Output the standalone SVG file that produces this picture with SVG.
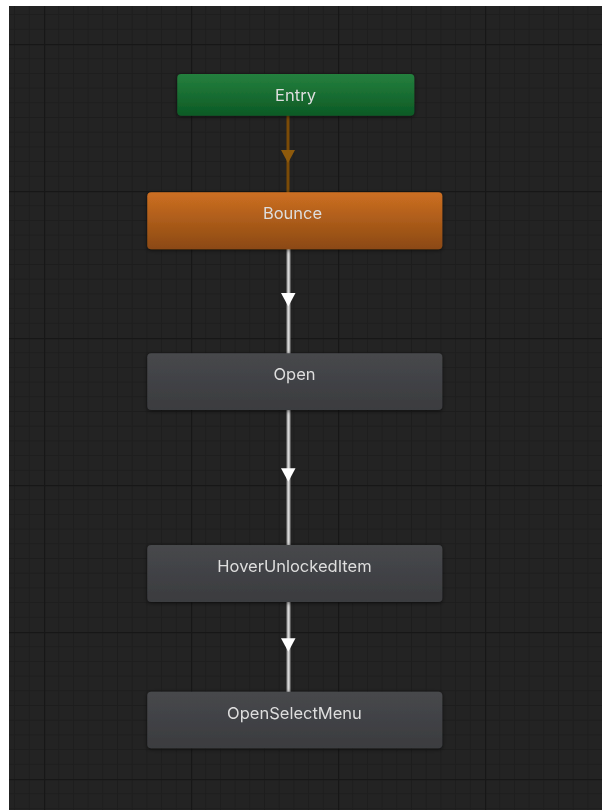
<svg xmlns="http://www.w3.org/2000/svg" width="602" height="810" viewBox="0 0 602 810">
  <defs>
    <!-- minor + major grid, one major cell = 10 minor cells -->
    <pattern id="grid" x="44" y="44" width="147" height="147" patternUnits="userSpaceOnUse">
      <g stroke="#1d1d1d" stroke-width="1">
        <path d="M14.7 0V147M29.4 0V147M44.1 0V147M58.8 0V147M73.5 0V147M88.2 0V147M102.9 0V147M117.6 0V147M132.3 0V147"/>
        <path d="M0 14.7H147M0 29.4H147M0 44.1H147M0 58.8H147M0 73.5H147M0 88.2H147M0 102.9H147M0 117.6H147M0 132.3H147"/>
      </g>
      <path d="M0.5 0V147M0 0.5H147" stroke="#171717" stroke-width="1.6"/>
    </pattern>
    <linearGradient id="gEntry" x1="0" y1="0" x2="0" y2="1">
      <stop offset="0" stop-color="#25803e"/>
      <stop offset="1" stop-color="#0c5a25"/>
    </linearGradient>
    <linearGradient id="gBounce" x1="0" y1="0" x2="0" y2="1">
      <stop offset="0" stop-color="#cd6f22"/>
      <stop offset="1" stop-color="#8b4912"/>
    </linearGradient>
    <linearGradient id="gState" x1="0" y1="0" x2="0" y2="1">
      <stop offset="0" stop-color="#47484c"/>
      <stop offset="1" stop-color="#3b3c3f"/>
    </linearGradient>
    <filter id="shadow" x="-10%" y="-30%" width="120%" height="160%">
      <feDropShadow dx="0" dy="1" stdDeviation="2" flood-color="#000" flood-opacity="0.6"/>
    </filter>
  </defs>
  <style>
    .label { font-family: Inter, "Noto Sans", "DejaVu Sans", sans-serif; font-size: 16.5px; fill: #dedede; text-anchor: middle; }
    .wire { stroke: #8c8c8c; stroke-width: 5; stroke-opacity: 0.55; fill: none; }
    .wire-core { stroke: #d8d8d8; stroke-width: 2.4; fill: none; }
    .head { fill: #ffffff; }
    .entry-wire { stroke: #7b4b07; stroke-width: 3; fill: none; }
    .entry-head { fill: #8e5a0c; }
    .node { filter: url(#shadow); }
  </style>

  <!-- canvas -->
  <rect width="602" height="810" fill="#ffffff"/>
  <rect x="9" y="6" width="593" height="804" fill="#232323"/>
  <rect x="9" y="6" width="593" height="804" fill="url(#grid)"/>

  <!-- transitions -->
  <g id="connectors">
    <g id="entry-to-bounce">
      <path class="entry-wire" d="M288 115V193"/>
      <path class="entry-head" d="M281 150H295L288 163Z"/>
    </g>
    <g id="bounce-to-open">
      <path class="wire" d="M288.5 249V354"/>
      <path class="wire-core" d="M288.5 249V354"/>
      <path class="head" d="M281 293H295.5L288.3 306.5Z"/>
    </g>
    <g id="open-to-hover">
      <path class="wire" d="M288.5 410V546"/>
      <path class="wire-core" d="M288.5 410V546"/>
      <path class="head" d="M281 468.3H295.5L288.3 481.8Z"/>
    </g>
    <g id="hover-to-openselect">
      <path class="wire" d="M288.5 602V692"/>
      <path class="wire-core" d="M288.5 602V692"/>
      <path class="head" d="M281 638.3H295.5L288.3 651.8Z"/>
    </g>
  </g>

  <!-- states -->
  <g id="entry" class="node">
    <rect x="177.3" y="74" width="237" height="41.7" rx="4" fill="url(#gEntry)"/>
    <text class="label" x="295.5" y="100.5">Entry</text>
  </g>
  <g id="bounce" class="node">
    <rect x="147.3" y="192.3" width="295" height="57" rx="4" fill="url(#gBounce)"/>
    <text class="label" x="292.5" y="219">Bounce</text>
  </g>
  <g id="open" class="node">
    <rect x="147.3" y="353.3" width="295" height="56.7" rx="4" fill="url(#gState)"/>
    <text class="label" x="294.5" y="379.5">Open</text>
  </g>
  <g id="hover-unlocked-item" class="node">
    <rect x="147.3" y="545" width="295" height="57" rx="4" fill="url(#gState)"/>
    <text class="label" x="294.5" y="571.5">HoverUnlockedItem</text>
  </g>
  <g id="open-select-menu" class="node">
    <rect x="147.3" y="691.7" width="295" height="56.6" rx="4" fill="url(#gState)"/>
    <text class="label" x="294.5" y="718.5">OpenSelectMenu</text>
  </g>
</svg>
